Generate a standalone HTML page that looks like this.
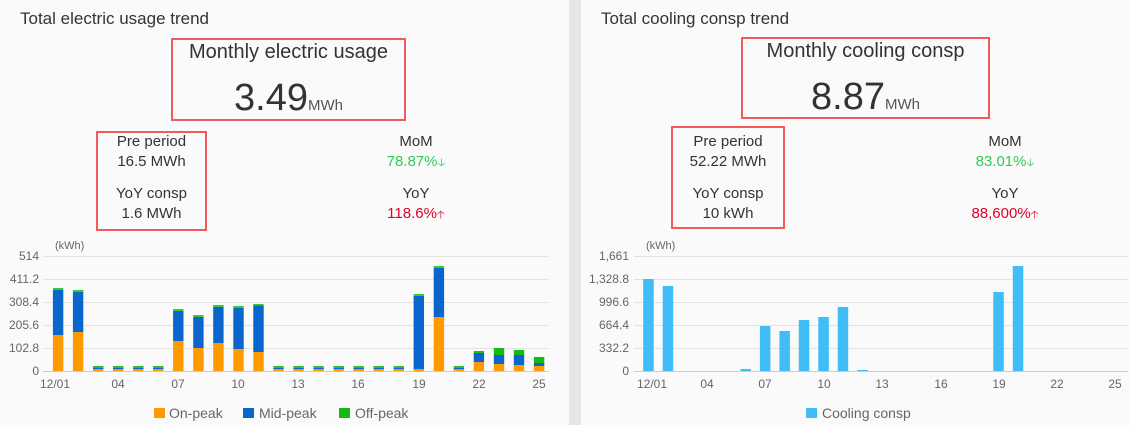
<!DOCTYPE html>
<html><head><meta charset="utf-8"><style>
*{margin:0;padding:0;box-sizing:border-box}
body{width:1130px;height:425px;background:#fafafa;font-family:"Liberation Sans",sans-serif;color:#333;position:relative;overflow:hidden}
.sep{position:absolute;left:569px;top:0;width:12px;height:425px;background:#e6e6e6}
.t{position:absolute;white-space:nowrap}
.title{font-size:17px;color:#333}
.box{position:absolute;border:2px solid #f05a5a}
.c{position:absolute;text-align:center;white-space:nowrap;font-size:15px;line-height:20px}
.big{font-size:38px;color:#333}
.unit{font-size:15px;color:#555}
.g{color:#2ecc55}.r{color:#e0002a}
svg{position:absolute;left:0;top:0}
</style></head><body>
<div class="sep"></div>

<div class="t title" style="left:20px;top:9px">Total electric usage trend</div>
<div class="box" style="left:171px;top:38px;width:235px;height:83px"></div>
<div class="c" style="left:171px;width:235px;top:40px;font-size:20px;line-height:24px">Monthly electric usage</div>
<div class="c" style="left:171px;width:235px;top:76px;line-height:44px"><span class="big">3.49</span><span class="unit">MWh</span></div>
<div class="box" style="left:96px;top:131px;width:111px;height:100px"></div>
<div class="c" style="left:96px;width:111px;top:132px">Pre period</div>
<div class="c" style="left:96px;width:111px;top:152px">16.5 MWh</div>
<div class="c" style="left:96px;width:111px;top:184px">YoY consp</div>
<div class="c" style="left:96px;width:111px;top:204px">1.6 MWh</div>
<div class="c" style="left:356px;width:120px;top:132px">MoM</div>
<div class="c g" style="left:356px;width:120px;top:152px">78.87%<span style="font-size:11px">&#129123;</span></div>
<div class="c" style="left:356px;width:120px;top:184px">YoY</div>
<div class="c r" style="left:356px;width:120px;top:204px">118.6%<span style="font-size:11px">&#129121;</span></div>

<div class="t title" style="left:601px;top:9px">Total cooling consp trend</div>
<div class="box" style="left:741px;top:37px;width:249px;height:82px"></div>
<div class="c" style="left:741px;width:249px;top:39px;font-size:20px;line-height:24px">Monthly cooling consp</div>
<div class="c" style="left:741px;width:249px;top:75px;line-height:44px"><span class="big">8.87</span><span class="unit">MWh</span></div>
<div class="box" style="left:671px;top:126px;width:114px;height:103px"></div>
<div class="c" style="left:671px;width:114px;top:132px">Pre period</div>
<div class="c" style="left:671px;width:114px;top:152px">52.22 MWh</div>
<div class="c" style="left:671px;width:114px;top:184px">YoY consp</div>
<div class="c" style="left:671px;width:114px;top:204px">10 kWh</div>
<div class="c" style="left:945px;width:120px;top:132px">MoM</div>
<div class="c g" style="left:945px;width:120px;top:152px">83.01%<span style="font-size:11px">&#129123;</span></div>
<div class="c" style="left:945px;width:120px;top:184px">YoY</div>
<div class="c r" style="left:945px;width:120px;top:204px">88,600%<span style="font-size:11px">&#129121;</span></div>

<svg width="1130" height="425" font-family="Liberation Sans, sans-serif" font-size="12" fill="#666">
<g stroke="#e2e2e2" stroke-width="1">
<line x1="43" x2="549" y1="256.5" y2="256.5"/><line x1="43" x2="549" y1="279.5" y2="279.5"/><line x1="43" x2="549" y1="302.5" y2="302.5"/><line x1="43" x2="549" y1="325.5" y2="325.5"/><line x1="43" x2="549" y1="348.5" y2="348.5"/>
<line x1="634" x2="1128" y1="256.5" y2="256.5"/><line x1="634" x2="1128" y1="279.5" y2="279.5"/><line x1="634" x2="1128" y1="302.5" y2="302.5"/><line x1="634" x2="1128" y1="325.5" y2="325.5"/><line x1="634" x2="1128" y1="348.5" y2="348.5"/>
</g>
<g stroke="#ccc"><line x1="43" x2="549" y1="371.5" y2="371.5"/><line x1="634" x2="1128" y1="371.5" y2="371.5"/></g>
<g text-anchor="end">
<text x="39" y="260">514</text><text x="39" y="283">411.2</text><text x="39" y="306">308.4</text><text x="39" y="329">205.6</text><text x="39" y="352">102.8</text><text x="39" y="375">0</text>
<text x="629" y="260">1,661</text><text x="629" y="283">1,328.8</text><text x="629" y="306">996.6</text><text x="629" y="329">664.4</text><text x="629" y="352">332.2</text><text x="629" y="375">0</text>
</g>
<text x="55" y="249" font-size="11">(kWh)</text>
<text x="646" y="249" font-size="11">(kWh)</text>
<g text-anchor="middle">
<text x="55" y="388">12/01</text><text x="118" y="388">04</text><text x="178" y="388">07</text><text x="238" y="388">10</text><text x="298" y="388">13</text><text x="358" y="388">16</text><text x="419" y="388">19</text><text x="479" y="388">22</text><text x="539" y="388">25</text>
<text x="652" y="388">12/01</text><text x="707" y="388">04</text><text x="765" y="388">07</text><text x="824" y="388">10</text><text x="882" y="388">13</text><text x="941" y="388">16</text><text x="999" y="388">19</text><text x="1057" y="388">22</text><text x="1115" y="388">25</text>
</g>
<!-- left bars -->
<g>
<rect x="52.9" y="288" width="10.4" height="2" fill="#33cc33"/><rect x="52.9" y="290" width="10.4" height="45" fill="#0a66cc"/><rect x="52.9" y="335" width="10.4" height="36" fill="#ff9900"/>
<rect x="72.9" y="290" width="10.4" height="2" fill="#33cc33"/><rect x="72.9" y="292" width="10.4" height="40" fill="#0a66cc"/><rect x="72.9" y="332" width="10.4" height="39" fill="#ff9900"/>
<rect x="173.1" y="309" width="10.4" height="2" fill="#33cc33"/><rect x="173.1" y="311" width="10.4" height="30" fill="#0a66cc"/><rect x="173.1" y="341" width="10.4" height="30" fill="#ff9900"/>
<rect x="193.2" y="315" width="10.4" height="2" fill="#33cc33"/><rect x="193.2" y="317" width="10.4" height="31" fill="#0a66cc"/><rect x="193.2" y="348" width="10.4" height="23" fill="#ff9900"/>
<rect x="213.2" y="305" width="10.4" height="2" fill="#33cc33"/><rect x="213.2" y="307" width="10.4" height="36" fill="#0a66cc"/><rect x="213.2" y="343" width="10.4" height="28" fill="#ff9900"/>
<rect x="233.3" y="306" width="10.4" height="2" fill="#33cc33"/><rect x="233.3" y="308" width="10.4" height="41" fill="#0a66cc"/><rect x="233.3" y="349" width="10.4" height="22" fill="#ff9900"/>
<rect x="253.3" y="304" width="10.4" height="1.5" fill="#33cc33"/><rect x="253.3" y="305.5" width="10.4" height="46.5" fill="#0a66cc"/><rect x="253.3" y="352" width="10.4" height="19" fill="#ff9900"/>
<rect x="413.6" y="294" width="10.4" height="2" fill="#33cc33"/><rect x="413.6" y="296" width="10.4" height="73" fill="#0a66cc"/><rect x="413.6" y="369" width="10.4" height="2" fill="#ff9900"/>
<rect x="433.7" y="266" width="10.4" height="2" fill="#33cc33"/><rect x="433.7" y="268" width="10.4" height="49" fill="#0a66cc"/><rect x="433.7" y="317" width="10.4" height="54" fill="#ff9900"/>
<rect x="473.7" y="351" width="10.4" height="2" fill="#22bb22"/><rect x="473.7" y="353" width="10.4" height="9" fill="#0a66cc"/><rect x="473.7" y="362" width="10.4" height="9" fill="#ff9900"/>
<rect x="493.8" y="348" width="10.4" height="7" fill="#11bb11"/><rect x="493.8" y="355" width="10.4" height="9" fill="#0a66cc"/><rect x="493.8" y="364" width="10.4" height="7" fill="#ff9900"/>
<rect x="513.8" y="350" width="10.4" height="5" fill="#11bb11"/><rect x="513.8" y="355" width="10.4" height="10" fill="#0a66cc"/><rect x="513.8" y="365" width="10.4" height="6" fill="#ff9900"/>
<rect x="533.9" y="357" width="10.4" height="6" fill="#11bb11"/><rect x="533.9" y="363" width="10.4" height="3" fill="#0a66cc"/><rect x="533.9" y="366" width="10.4" height="5" fill="#ff9900"/>
</g>
<g>
<g fill="#33bb33"><rect x="93" y="366" width="10.4" height="2"/><rect x="113" y="366" width="10.4" height="2"/><rect x="133.1" y="366" width="10.4" height="2"/><rect x="153.1" y="366" width="10.4" height="2"/><rect x="273.3" y="366" width="10.4" height="2"/><rect x="293.4" y="366" width="10.4" height="2"/><rect x="313.4" y="366" width="10.4" height="2"/><rect x="333.5" y="366" width="10.4" height="2"/><rect x="353.5" y="366" width="10.4" height="2"/><rect x="373.5" y="366" width="10.4" height="2"/><rect x="393.6" y="366" width="10.4" height="2"/><rect x="453.7" y="366" width="10.4" height="2"/></g>
<g fill="#0a66cc"><rect x="93" y="368" width="10.4" height="1"/><rect x="113" y="368" width="10.4" height="1"/><rect x="133.1" y="368" width="10.4" height="1"/><rect x="153.1" y="368" width="10.4" height="1"/><rect x="273.3" y="368" width="10.4" height="1"/><rect x="293.4" y="368" width="10.4" height="1"/><rect x="313.4" y="368" width="10.4" height="1"/><rect x="333.5" y="368" width="10.4" height="1"/><rect x="353.5" y="368" width="10.4" height="1"/><rect x="373.5" y="368" width="10.4" height="1"/><rect x="393.6" y="368" width="10.4" height="1"/><rect x="453.7" y="368" width="10.4" height="1"/></g>
<g fill="#ff9900"><rect x="93" y="369" width="10.4" height="2"/><rect x="113" y="369" width="10.4" height="2"/><rect x="133.1" y="369" width="10.4" height="2"/><rect x="153.1" y="369" width="10.4" height="2"/><rect x="273.3" y="369" width="10.4" height="2"/><rect x="293.4" y="369" width="10.4" height="2"/><rect x="313.4" y="369" width="10.4" height="2"/><rect x="333.5" y="369" width="10.4" height="2"/><rect x="353.5" y="369" width="10.4" height="2"/><rect x="373.5" y="369" width="10.4" height="2"/><rect x="393.6" y="369" width="10.4" height="2"/><rect x="453.7" y="369" width="10.4" height="2"/></g>
</g>
<!-- right bars -->
<g fill="#40bcf6">
<rect x="643.2" y="279" width="10.5" height="92"/><rect x="662.7" y="286" width="10.5" height="85"/><rect x="740.5" y="369" width="10.5" height="2"/><rect x="759.9" y="326" width="10.5" height="45"/><rect x="779.4" y="331" width="10.5" height="40"/><rect x="798.8" y="320" width="10.5" height="51"/><rect x="818.3" y="317" width="10.5" height="54"/><rect x="837.7" y="307" width="10.5" height="64"/><rect x="857.2" y="370" width="10.5" height="1"/><rect x="993.3" y="292" width="10.5" height="79"/><rect x="1012.8" y="266" width="10.5" height="105"/>
</g>
<g font-size="14" fill="#666">
<rect x="154" y="408" width="11" height="10" fill="#ff9900"/><text x="169" y="418">On-peak</text>
<rect x="243" y="408" width="11" height="10" fill="#0a66cc"/><text x="259" y="418">Mid-peak</text>
<rect x="339" y="408" width="11" height="10" fill="#11bb11"/><text x="355" y="418">Off-peak</text>
<rect x="806" y="408" width="11" height="10" fill="#40bcf6"/><text x="822" y="418">Cooling consp</text>
</g>
</svg>
</body></html>
